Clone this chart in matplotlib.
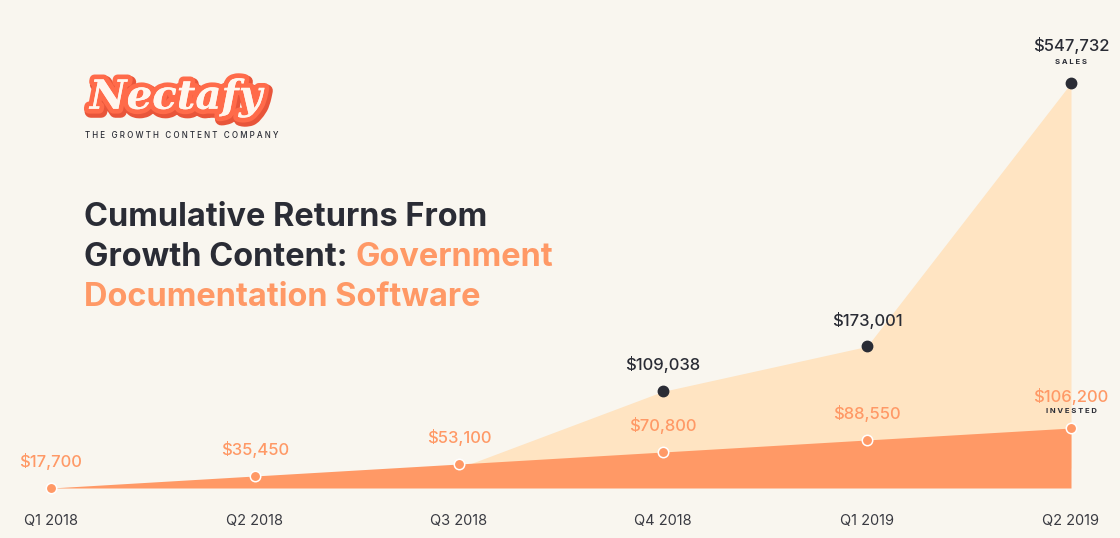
import matplotlib
matplotlib.use("Agg")
import matplotlib.pyplot as plt
import matplotlib.patheffects as pe

# ---- data ----
quarters = ["Q1 2018", "Q2 2018", "Q3 2018", "Q4 2018", "Q1 2019", "Q2 2019"]
invested = [17700, 35450, 53100, 70800, 88550, 106200]
sales = [0, 0, 0, 109038, 173001, 547732]   # no sales shown before Q4 2018
sales_shown = [3, 4, 5]                      # quarters with a visible sales label

BG = "#F9F6EF"
PEACH = "#FFE4C2"
ORANGE = "#FF9966"
DARK = "#2A2C35"

plt.rcParams["font.family"] = ["Inter", "DejaVu Sans"]

W, H = 1120, 538
fig = plt.figure(figsize=(W / 100, H / 100), dpi=100, facecolor=BG)
x = list(range(len(quarters)))
xlim = (-51 / 204, 5 + 49 / 204)

# the graphic is not drawn to one common scale: sales and invested
# each get their own axes (same x), like the original design
sales_base_px = 468
ax_s = fig.add_axes([0, (H - sales_base_px) / H, 1, sales_base_px / H])
ax_s.set_facecolor(BG)
ax_s.set_xlim(*xlim)
ax_s.set_ylim(0, sales[-1] * sales_base_px / (sales_base_px - 83))
ax_s.axis("off")

inv_base_px = 488
ax = fig.add_axes([0, (H - inv_base_px) / H, 1, inv_base_px / H])
ax.patch.set_alpha(0)
ax.set_xlim(*xlim)
inv_per_px = (invested[-1] - invested[0]) / (inv_base_px - 428)
ax.set_ylim(invested[0], invested[0] + inv_base_px * inv_per_px)

ax_s.fill_between(x, 0, sales, color=PEACH, lw=0, zorder=1)
ax.fill_between(x, invested[0], invested, color=ORANGE, lw=0, zorder=2)

# markers
ax.plot(x, invested, "o", ms=7.5, mfc=ORANGE, mec="white", mew=1.1, zorder=4, clip_on=False)
ax_s.plot([x[i] for i in sales_shown], [sales[i] for i in sales_shown], "o",
          ms=7.5, mfc=DARK, mec=DARK, zorder=4, clip_on=False)

lab_kw = dict(textcoords="offset points", ha="center", va="center",
              fontsize=12, fontweight="medium", zorder=5)
tag_kw = dict(textcoords="offset points", ha="center", va="center",
              fontsize=5.5, fontweight="bold", color=DARK)

for i, v in enumerate(invested):
    last = i == len(invested) - 1
    ax.annotate(f"${v:,}", (x[i], v), xytext=(0, 23 if last else 19),
                color=ORANGE, **lab_kw)
ax.annotate("I N V E S T E D", (x[-1], invested[-1]), xytext=(0, 12), **tag_kw)

for i in sales_shown:
    last = i == len(sales) - 1
    ax_s.annotate(f"${sales[i]:,}", (x[i], sales[i]), xytext=(0, 27 if last else 19),
                  color=DARK, **lab_kw)
ax_s.annotate("S A L E S", (x[-1], sales[-1]), xytext=(0, 15), **tag_kw)

ax.set_xticks(x, quarters)
ax.tick_params(axis="x", length=0, pad=19, labelsize=10.5, labelcolor="#3A3B42")
ax.set_yticks([])
for s in ax.spines.values():
    s.set_visible(False)

# ---- title ----
title_kw = dict(fontsize=23.4, fontweight="bold", va="center", ha="left")
fig.text(84 / W, 1 - 218 / H, "Cumulative Returns From", color=DARK, **title_kw)
t2 = fig.text(84 / W, 1 - 258 / H, "Growth Content: ", color=DARK, **title_kw)
fig.text(84 / W, 1 - 297 / H, "Documentation Software", color=ORANGE, **title_kw)
bb = t2.get_window_extent(fig.canvas.get_renderer())
fig.text(bb.x1 / W, 1 - 258 / H, "Government", color=ORANGE, **title_kw)

# ---- logo ----
logo = fig.text(176 / W, 1 - 98 / H, "Nectafy", fontsize=29, fontweight="bold",
                style="italic", family="DejaVu Serif", color="#FFF6EE",
                ha="center", va="center")
logo.set_path_effects([
    pe.withStroke(linewidth=9, foreground="#E8553A", offset=(1.5, -2)),
    pe.withStroke(linewidth=7, foreground="#FF6B4A"),
    pe.Normal(),
])
fig.text(182 / W, 1 - 136 / H, "   ".join(" ".join(w) for w in "THE GROWTH CONTENT COMPANY".split()),
         fontsize=5.8, color=DARK, ha="center", va="center", fontweight="medium")

fig.savefig("out.png", dpi=100, facecolor=BG)
